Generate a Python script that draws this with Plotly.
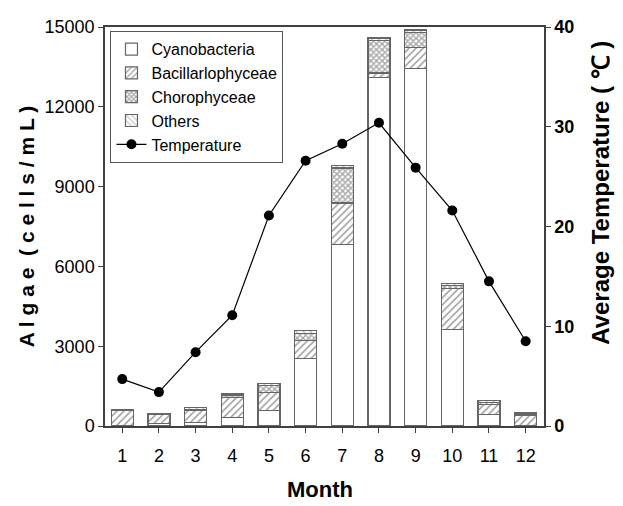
import plotly.graph_objects as go

months = [1, 2, 3, 4, 5, 6, 7, 8, 9, 10, 11, 12]
cyanobacteria = [20, 100, 140, 320, 590, 2525, 6810, 13115, 13430, 3630, 430, 20]
bacillariophyceae = [560, 340, 450, 760, 670, 675, 1570, 155, 785, 1530, 380, 380]
chorophyceae = [0, 0, 40, 70, 250, 270, 1320, 1230, 565, 120, 70, 30]
others = [45, 30, 60, 50, 90, 120, 80, 85, 110, 90, 75, 60]
temperature = [4.7, 3.4, 7.4, 11.1, 21.1, 26.6, 28.3, 30.4, 25.9, 21.6, 14.5, 8.5]

FONT = "Liberation Sans, Arial, sans-serif"
edge = dict(color="#666666", width=1.2)
bw = 0.6

fig = go.Figure()
fig.add_trace(go.Bar(x=months, y=cyanobacteria, name="Cyanobacteria", width=bw,
                     marker=dict(color="white", line=edge)))
fig.add_trace(go.Bar(x=months, y=bacillariophyceae, name="Bacillarlophyceae", width=bw,
                     marker=dict(color="white", line=edge,
                                 pattern=dict(shape="/", fgcolor="#3c3c3c", bgcolor="white",
                                              size=5, solidity=0.3))))
fig.add_trace(go.Bar(x=months, y=chorophyceae, name="Chorophyceae", width=bw,
                     marker=dict(color="white", line=edge,
                                 pattern=dict(shape="x", fgcolor="#505050", bgcolor="white",
                                              size=4, solidity=0.6))))
fig.add_trace(go.Bar(x=months, y=others, name="Others", width=bw,
                     marker=dict(color="white", line=edge,
                                 pattern=dict(shape="\\", fgcolor="#8a8a8a", bgcolor="white",
                                              size=5, solidity=0.3))))
fig.add_trace(go.Scatter(x=months, y=temperature, name="Temperature", yaxis="y2",
                         mode="lines+markers",
                         line=dict(color="black", width=1.2),
                         marker=dict(color="black", size=10)))

axis_line = "#404040"
fig.update_layout(
    width=623, height=506,
    margin=dict(l=97, r=87, t=9, b=88),
    paper_bgcolor="white", plot_bgcolor="white",
    barmode="stack",
    showlegend=True,
    font=dict(family=FONT, color="black"),
    xaxis=dict(range=[0.53, 12.5], tickvals=months, ticks="outside", ticklen=5,
               tickcolor=axis_line, showline=True, linecolor=axis_line, linewidth=1.5,
               mirror=True, showgrid=False, zeroline=False, ticklabelstandoff=8,
               tickfont=dict(family=FONT, size=18, color="black")),
    yaxis=dict(range=[0, 15000], tickvals=[0, 3000, 6000, 9000, 12000, 15000],
               ticktext=["0", "3000", "6000", "9000", "12000", "15000"],
               ticks="outside", ticklen=5, tickcolor=axis_line,
               showline=True, linecolor=axis_line, linewidth=1.5,
               showgrid=False, zeroline=False,
               tickfont=dict(family=FONT, size=18, color="black")),
    yaxis2=dict(range=[0, 40], tickvals=[0, 10, 20, 30, 40], overlaying="y", side="right",
                ticks="outside", ticklen=5, tickcolor=axis_line,
                showline=True, linecolor=axis_line, linewidth=1.5,
                showgrid=False, zeroline=False,
                tickfont=dict(family=FONT, size=18, color="black", weight="bold")),
    legend=dict(x=0.012, y=0.99, xanchor="left", yanchor="top",
                bgcolor="white", bordercolor="#555555", borderwidth=1.2,
                traceorder="normal",
                font=dict(family=FONT, size=16, color="black")),
    annotations=[
        dict(text="A l g a e  ( c e l l s / m L )", xref="paper", yref="paper",
             x=-0.178, y=0.5, textangle=-90, showarrow=False, xanchor="center", yanchor="middle",
             font=dict(family=FONT, size=21, color="black", weight="bold")),
        dict(text="Average Temperature ( ℃ )", xref="paper", yref="paper",
             x=1.128, y=0.585, textangle=-90, showarrow=False, xanchor="center", yanchor="middle",
             font=dict(family=FONT, size=24, color="black", weight="bold")),
        dict(text="Month", xref="paper", yref="paper",
             x=0.49, y=-0.159, showarrow=False, xanchor="center", yanchor="middle",
             font=dict(family=FONT, size=22, color="black", weight="bold")),
    ],
)

fig.write_html("out.html")
